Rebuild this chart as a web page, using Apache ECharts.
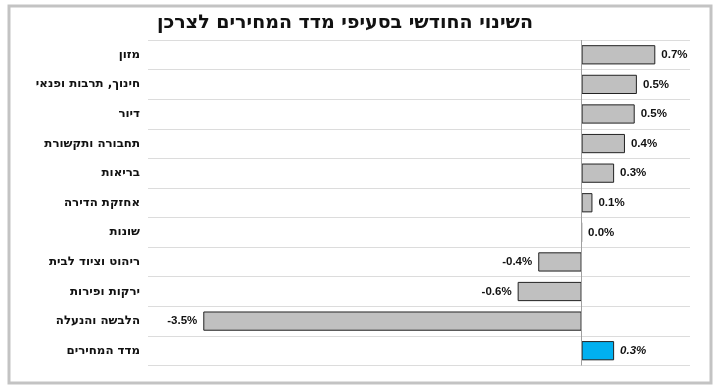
<!DOCTYPE html>
<html>
<head>
<meta charset="utf-8">
<script src="https://cdn.jsdelivr.net/npm/echarts@6/dist/echarts.min.js"></script>
<style>
html,body{margin:0;padding:0;background:#fff;}
#c{width:720px;height:392px;}
</style>
</head>
<body>
<div id="c"></div>
<script>
var titleText = 'השינוי החודשי בסעיפי מדד המחירים לצרכן';
var categories = ['מזון','חינוך, תרבות ופנאי','דיור','תחבורה ותקשורת','בריאות','אחזקת הדירה','שונות','ריהוט וציוד לבית','ירקות ופירות','הלבשה והנעלה','מדד המחירים'];
var values = [0.68, 0.51, 0.49, 0.40, 0.30, 0.10, 0.00, -0.40, -0.59, -3.49, 0.30];
var totalCategory = 'מדד המחירים';

var font = '"Liberation Sans", Arial, sans-serif';
var hebFont = '"DejaVu Sans", sans-serif';
var chart = echarts.init(document.getElementById('c'), null, {renderer:'canvas'});

var data = values.map(function(v, i){
  var isTotal = categories[i] === totalCategory;
  return {
    value: v,
    itemStyle: {color: isTotal ? '#00b0f0' : '#c0c0c0', borderColor: '#222', borderWidth: 1},
    label: {position: v < 0 ? 'left' : 'right', fontStyle: isTotal ? 'italic' : 'normal'}
  };
});

chart.setOption({
  animation: false,
  backgroundColor: '#fff',
  title: {
    text: titleText, left: 340, top: 9, textAlign: 'center',
    textStyle: {fontFamily: hebFont, fontSize: 19, fontWeight: 'bold', color: '#111'}
  },
  graphic: [{
    type: 'rect', shape: {x: 9, y: 6, width: 702, height: 377},
    style: {fill: 'none', stroke: '#c3c3c3', lineWidth: 3}, silent: true, z: -1
  }],
  grid: {left: 148, right: 30, top: 40, bottom: 26.5},
  xAxis: {
    type: 'value', min: -4, max: 1, show: false
  },
  yAxis: {
    type: 'category', data: categories, inverse: true,
    axisLine: {show: false}, axisTick: {show: false},
    axisLabel: {fontFamily: hebFont, fontSize: 11.8, fontWeight: 'bold', color: '#111', margin: 8},
    splitLine: {show: true, lineStyle: {color: '#dcdcdc', width: 1}}
  },
  series: [{
    type: 'bar', data: data, barCategoryGap: '35%',
    label: {
      show: true, distance: 6, fontFamily: font, fontSize: 11.5, fontWeight: 'bold', color: '#111',
      formatter: function(p){ return p.value.toFixed(1) + '%'; }
    },
    markLine: {
      silent: true, symbol: 'none', label: {show: false},
      lineStyle: {color: '#a0a0a0', width: 1, type: 'solid'},
      data: [{xAxis: 0}]
    }
  }]
});
</script>
</body>
</html>
